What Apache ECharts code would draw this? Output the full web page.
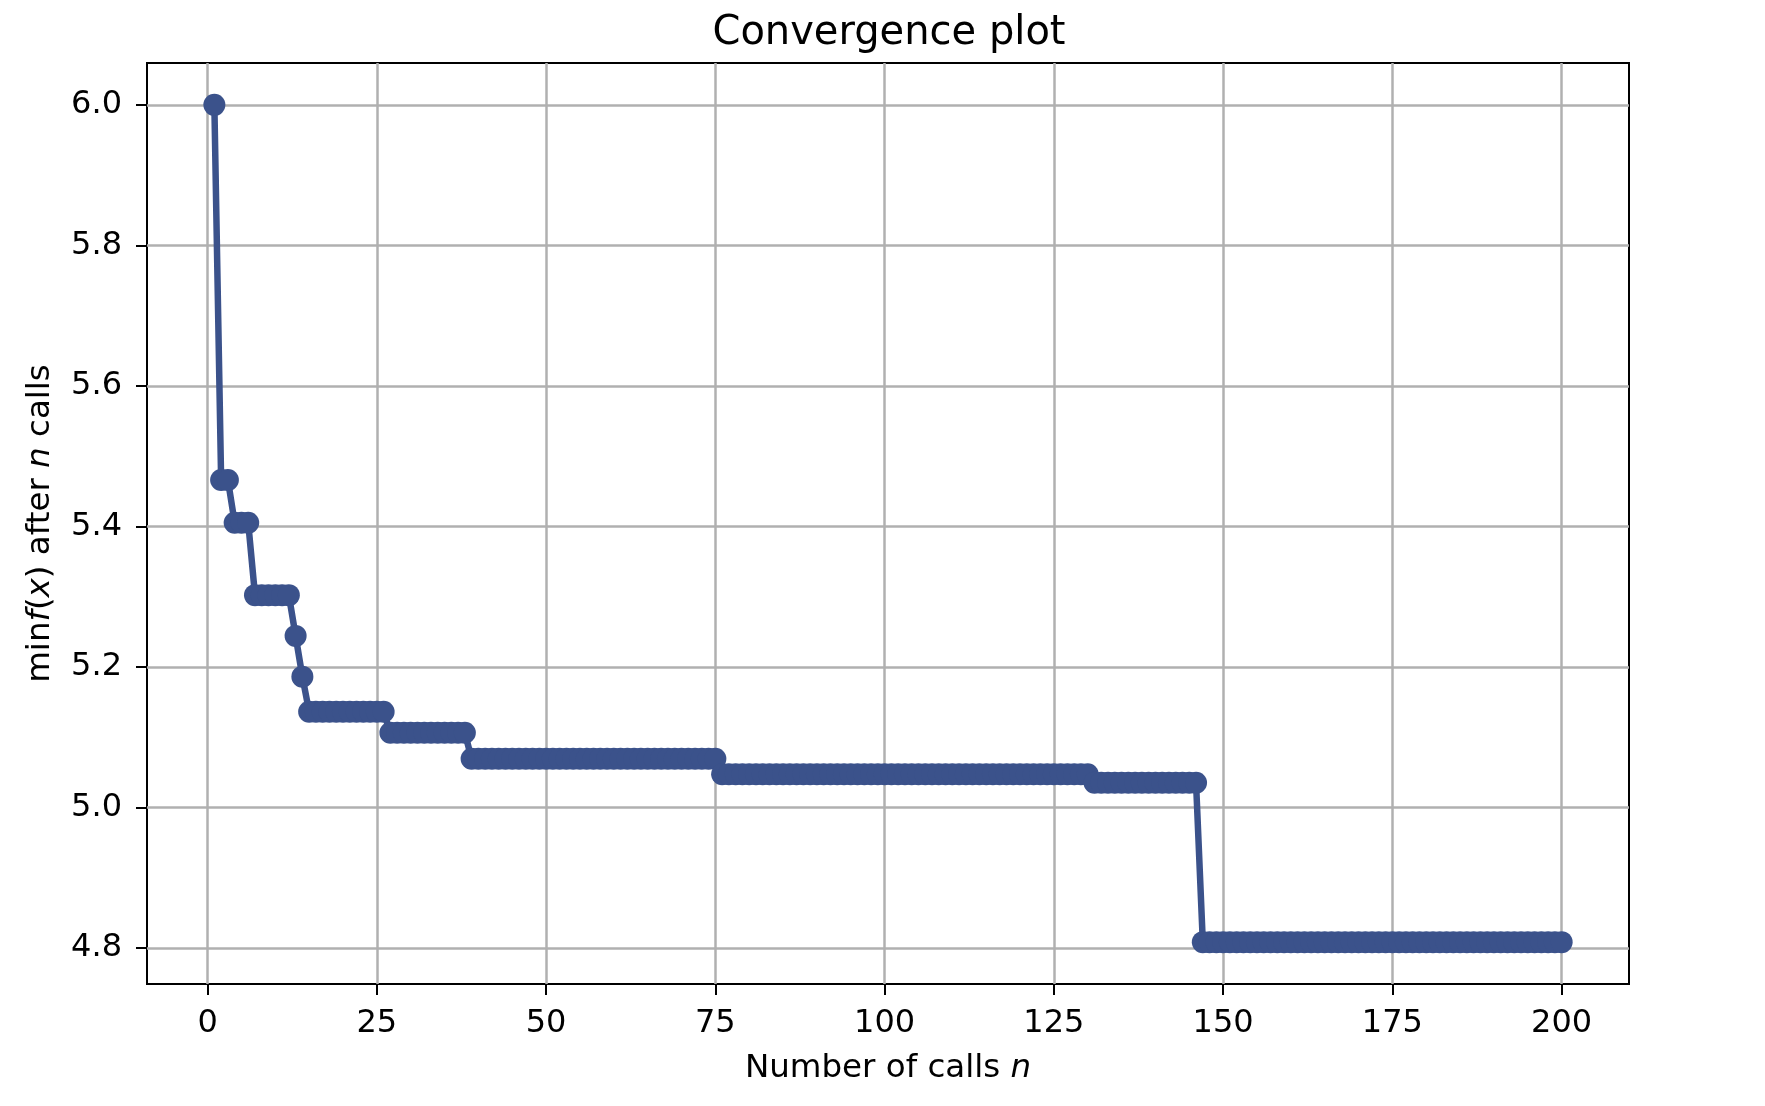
<!DOCTYPE html>
<html lang="en">
<head>
    <meta charset="UTF-8">
    <title>Convergence plot</title>
    <script src="https://cdn.jsdelivr.net/npm/echarts@6/dist/echarts.min.js"></script>
    <style>
        html, body { margin: 0; padding: 0; background: #fff; }
    </style>
</head>
<body>
<div id="main" style="width:1765px;height:1106px;"></div>
<script type="text/javascript">
    // best value found so far, one entry per call (n = 1..200)
    var minFx = [
        6.000,
        5.466, 5.466,
        5.405, 5.405, 5.405,
        5.302, 5.302, 5.302, 5.302, 5.302, 5.302,
        5.244,
        5.186,
        5.136, 5.136, 5.136, 5.136, 5.136, 5.136, 5.136, 5.136, 5.136, 5.136, 5.136, 5.136,
        5.106, 5.106, 5.106, 5.106, 5.106, 5.106, 5.106, 5.106, 5.106, 5.106, 5.106, 5.106,
        5.069, 5.069, 5.069, 5.069, 5.069, 5.069, 5.069, 5.069, 5.069, 5.069,
        5.069, 5.069, 5.069, 5.069, 5.069, 5.069, 5.069, 5.069, 5.069, 5.069,
        5.069, 5.069, 5.069, 5.069, 5.069, 5.069, 5.069, 5.069, 5.069, 5.069,
        5.069, 5.069, 5.069, 5.069, 5.069, 5.069, 5.069,
        5.047, 5.047, 5.047, 5.047, 5.047, 5.047, 5.047, 5.047, 5.047, 5.047,
        5.047, 5.047, 5.047, 5.047, 5.047, 5.047, 5.047, 5.047, 5.047, 5.047,
        5.047, 5.047, 5.047, 5.047, 5.047, 5.047, 5.047, 5.047, 5.047, 5.047,
        5.047, 5.047, 5.047, 5.047, 5.047, 5.047, 5.047, 5.047, 5.047, 5.047,
        5.047, 5.047, 5.047, 5.047, 5.047, 5.047, 5.047, 5.047, 5.047, 5.047,
        5.047, 5.047, 5.047, 5.047, 5.047,
        5.035, 5.035, 5.035, 5.035, 5.035, 5.035, 5.035, 5.035, 5.035, 5.035,
        5.035, 5.035, 5.035, 5.035, 5.035, 5.035,
        4.808, 4.808, 4.808, 4.808, 4.808, 4.808, 4.808, 4.808, 4.808, 4.808,
        4.808, 4.808, 4.808, 4.808, 4.808, 4.808, 4.808, 4.808, 4.808, 4.808,
        4.808, 4.808, 4.808, 4.808, 4.808, 4.808, 4.808, 4.808, 4.808, 4.808,
        4.808, 4.808, 4.808, 4.808, 4.808, 4.808, 4.808, 4.808, 4.808, 4.808,
        4.808, 4.808, 4.808, 4.808, 4.808, 4.808, 4.808, 4.808, 4.808, 4.808,
        4.808, 4.808, 4.808, 4.808
    ];
    var xTicks = [0, 25, 50, 75, 100, 125, 150, 175, 200];
    var yTicks = [4.8, 5.0, 5.2, 5.4, 5.6, 5.8, 6.0];

    var points = [];
    for (var i = 0; i < minFx.length; i++) {
        points.push([i + 1, minFx[i]]);
    }

    var gridLines = [];
    xTicks.forEach(function (v) { gridLines.push({ xAxis: v }); });
    yTicks.forEach(function (v) { gridLines.push({ yAxis: v }); });

    var font = 'DejaVu Sans';
    var lineColor = '#3b528b';

    var myChart = echarts.init(document.getElementById('main'));
    myChart.setOption({
        animation: false,
        backgroundColor: '#ffffff',
        title: {
            text: 'Convergence plot',
            left: 884,
            top: 9,
            textAlign: 'center',
            textStyle: { fontFamily: font, fontSize: 40, fontWeight: 'normal', color: '#000' }
        },
        grid: {
            left: 147,
            right: 136,
            top: 63,
            bottom: 122,
            show: true,
            borderColor: '#000',
            borderWidth: 2,
            backgroundColor: 'transparent'
        },
        xAxis: {
            type: 'value',
            min: -8.95,
            max: 209.95,
            name: '{r|Number of calls }{i|n}',
            nameLocation: 'middle',
            nameGap: 68,
            nameTextStyle: {
                rich: {
                    r: { fontFamily: font, fontSize: 32.5, color: '#000' },
                    i: { fontFamily: font, fontSize: 32.5, fontStyle: 'italic', color: '#000' }
                }
            },
            axisLine: { show: true, onZero: false, lineStyle: { color: '#000', width: 2 } },
            axisTick: { show: true, inside: false, length: 11, customValues: xTicks, lineStyle: { color: '#000', width: 2 } },
            axisLabel: { customValues: xTicks, margin: 24, fontFamily: font, fontSize: 32, color: '#000' },
            splitLine: { show: false }
        },
        yAxis: {
            type: 'value',
            min: 4.7484,
            max: 6.0596,
            name: '{r|min}{i|f}{r|(}{i|x}{r|) after }{i|n}{r| calls}',
            nameLocation: 'middle',
            nameRotate: 90,
            nameGap: 90,
            nameTextStyle: {
                rich: {
                    r: { fontFamily: font, fontSize: 32.5, color: '#000' },
                    i: { fontFamily: font, fontSize: 32.5, fontStyle: 'italic', color: '#000' }
                }
            },
            axisLine: { show: true, onZero: false, lineStyle: { color: '#000', width: 2 } },
            axisTick: { show: true, inside: false, length: 11, customValues: yTicks, lineStyle: { color: '#000', width: 2 } },
            axisLabel: {
                customValues: yTicks,
                margin: 25,
                fontFamily: font,
                fontSize: 32,
                color: '#000',
                formatter: function (v) { return v.toFixed(1); }
            },
            splitLine: { show: false }
        },
        series: [
            {
                type: 'line',
                z: 3,
                data: points,
                symbol: 'circle',
                symbolSize: 22,
                showAllSymbol: true,
                itemStyle: { color: lineColor },
                lineStyle: { color: lineColor, width: 6.5 },
                markLine: {
                    silent: true,
                    z: 1,
                    symbol: ['none', 'none'],
                    label: { show: false },
                    lineStyle: { color: '#b0b0b0', width: 2.5, type: 'solid' },
                    emphasis: { disabled: true },
                    data: gridLines
                }
            }
        ]
    });
</script>
</body>
</html>
